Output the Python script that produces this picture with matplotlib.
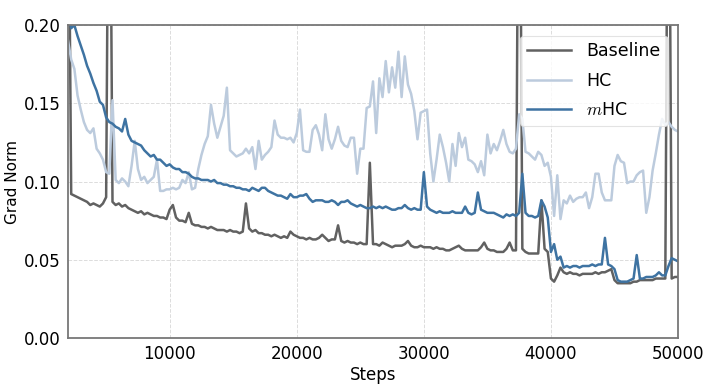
import numpy as np
import matplotlib
matplotlib.use('Agg')
import matplotlib.pyplot as plt

plt.rcParams['font.family'] = ['DejaVu Sans']
plt.rcParams['mathtext.fontset'] = 'cm'

# training steps, logged every 250
steps = np.arange(2000, 50001, 250)

baseline = [
    0.350, 0.092, 0.091, 0.090,   # 2000
    0.089, 0.088, 0.087, 0.085,   # 3000
    0.086, 0.085, 0.084, 0.086,   # 4000
    0.090, 0.400, 0.087, 0.085,   # 5000
    0.086, 0.084, 0.085, 0.083,   # 6000
    0.082, 0.081, 0.080, 0.081,   # 7000
    0.079, 0.080, 0.079, 0.078,   # 8000
    0.078, 0.077, 0.077, 0.076,   # 9000
    0.082, 0.085, 0.077, 0.075,   # 10000
    0.075, 0.074, 0.080, 0.073,   # 11000
    0.072, 0.072, 0.071, 0.071,   # 12000
    0.070, 0.071, 0.070, 0.069,   # 13000
    0.069, 0.069, 0.068, 0.069,   # 14000
    0.068, 0.068, 0.067, 0.068,   # 15000
    0.086, 0.070, 0.068, 0.069,   # 16000
    0.067, 0.067, 0.066, 0.066,   # 17000
    0.065, 0.066, 0.065, 0.064,   # 18000
    0.065, 0.064, 0.068, 0.066,   # 19000
    0.065, 0.064, 0.064, 0.063,   # 20000
    0.064, 0.063, 0.063, 0.064,   # 21000
    0.066, 0.064, 0.062, 0.063,   # 22000
    0.063, 0.072, 0.062, 0.061,   # 23000
    0.062, 0.061, 0.061, 0.060,   # 24000
    0.061, 0.060, 0.060, 0.112,   # 25000
    0.060, 0.060, 0.059, 0.061,   # 26000
    0.060, 0.059, 0.058, 0.059,   # 27000
    0.059, 0.059, 0.060, 0.062,   # 28000
    0.059, 0.058, 0.058, 0.059,   # 29000
    0.058, 0.058, 0.058, 0.057,   # 30000
    0.058, 0.057, 0.057, 0.056,   # 31000
    0.056, 0.057, 0.058, 0.059,   # 32000
    0.057, 0.056, 0.056, 0.056,   # 33000
    0.056, 0.056, 0.058, 0.061,   # 34000
    0.057, 0.056, 0.056, 0.055,   # 35000
    0.055, 0.055, 0.057, 0.061,   # 36000
    0.056, 0.056, 0.400, 0.057,   # 37000
    0.055, 0.054, 0.054, 0.054,   # 38000
    0.054, 0.088, 0.057, 0.055,   # 39000
    0.038, 0.036, 0.040, 0.045,   # 40000
    0.042, 0.041, 0.042, 0.041,   # 41000
    0.041, 0.040, 0.041, 0.041,   # 42000
    0.041, 0.041, 0.042, 0.041,   # 43000
    0.042, 0.042, 0.043, 0.044,   # 44000
    0.037, 0.035, 0.035, 0.035,   # 45000
    0.035, 0.035, 0.036, 0.036,   # 46000
    0.037, 0.037, 0.037, 0.037,   # 47000
    0.037, 0.038, 0.038, 0.038,   # 48000
    0.038, 0.400, 0.038, 0.039,   # 49000
    0.039]

hc = [
    0.190, 0.178, 0.172, 0.155,   # 2000
    0.146, 0.138, 0.133, 0.131,   # 3000
    0.134, 0.121, 0.118, 0.114,   # 4000
    0.106, 0.105, 0.152, 0.101,   # 5000
    0.099, 0.102, 0.100, 0.097,   # 6000
    0.110, 0.126, 0.108, 0.101,   # 7000
    0.103, 0.099, 0.101, 0.103,   # 8000
    0.114, 0.094, 0.094, 0.095,   # 9000
    0.095, 0.096, 0.095, 0.096,   # 10000
    0.101, 0.099, 0.106, 0.095,   # 11000
    0.096, 0.108, 0.117, 0.124,   # 12000
    0.129, 0.149, 0.137, 0.128,   # 13000
    0.135, 0.142, 0.160, 0.120,   # 14000
    0.118, 0.116, 0.117, 0.118,   # 15000
    0.121, 0.118, 0.122, 0.108,   # 16000
    0.126, 0.114, 0.117, 0.119,   # 17000
    0.122, 0.139, 0.130, 0.128,   # 18000
    0.128, 0.127, 0.128, 0.125,   # 19000
    0.131, 0.146, 0.120, 0.119,   # 20000
    0.119, 0.133, 0.136, 0.130,   # 21000
    0.120, 0.143, 0.127, 0.121,   # 22000
    0.127, 0.135, 0.126, 0.123,   # 23000
    0.122, 0.128, 0.128, 0.105,   # 24000
    0.121, 0.121, 0.147, 0.148,   # 25000
    0.164, 0.131, 0.166, 0.154,   # 26000
    0.177, 0.157, 0.173, 0.160,   # 27000
    0.183, 0.154, 0.180, 0.162,   # 28000
    0.156, 0.145, 0.127, 0.144,   # 29000
    0.145, 0.146, 0.118, 0.100,   # 30000
    0.114, 0.130, 0.122, 0.112,   # 31000
    0.100, 0.124, 0.110, 0.131,   # 32000
    0.122, 0.128, 0.114, 0.113,   # 33000
    0.111, 0.106, 0.113, 0.104,   # 34000
    0.130, 0.118, 0.124, 0.120,   # 35000
    0.126, 0.133, 0.124, 0.119,   # 36000
    0.118, 0.121, 0.143, 0.140,   # 37000
    0.119, 0.118, 0.116, 0.114,   # 38000
    0.119, 0.117, 0.110, 0.112,   # 39000
    0.103, 0.078, 0.104, 0.076,   # 40000
    0.088, 0.086, 0.091, 0.087,   # 41000
    0.089, 0.090, 0.090, 0.093,   # 42000
    0.083, 0.090, 0.105, 0.105,   # 43000
    0.093, 0.088, 0.088, 0.088,   # 44000
    0.110, 0.117, 0.113, 0.112,   # 45000
    0.099, 0.100, 0.100, 0.104,   # 46000
    0.106, 0.107, 0.080, 0.090,   # 47000
    0.107, 0.118, 0.130, 0.140,   # 48000
    0.136, 0.138, 0.135, 0.133,   # 49000
    0.132]

mhc = [
    0.210, 0.198, 0.200, 0.193,   # 2000
    0.187, 0.181, 0.174, 0.169,   # 3000
    0.163, 0.158, 0.151, 0.149,   # 4000
    0.141, 0.138, 0.137, 0.135,   # 5000
    0.134, 0.132, 0.140, 0.130,   # 6000
    0.126, 0.125, 0.124, 0.123,   # 7000
    0.120, 0.118, 0.116, 0.117,   # 8000
    0.114, 0.114, 0.112, 0.110,   # 9000
    0.111, 0.109, 0.108, 0.108,   # 10000
    0.106, 0.106, 0.105, 0.103,   # 11000
    0.102, 0.102, 0.101, 0.101,   # 12000
    0.101, 0.100, 0.101, 0.099,   # 13000
    0.099, 0.098, 0.098, 0.097,   # 14000
    0.097, 0.096, 0.096, 0.095,   # 15000
    0.095, 0.094, 0.096, 0.095,   # 16000
    0.094, 0.096, 0.096, 0.094,   # 17000
    0.093, 0.092, 0.091, 0.091,   # 18000
    0.090, 0.089, 0.092, 0.090,   # 19000
    0.090, 0.091, 0.091, 0.092,   # 20000
    0.089, 0.087, 0.088, 0.088,   # 21000
    0.088, 0.087, 0.087, 0.088,   # 22000
    0.087, 0.085, 0.087, 0.087,   # 23000
    0.088, 0.086, 0.085, 0.084,   # 24000
    0.085, 0.084, 0.083, 0.083,   # 25000
    0.084, 0.083, 0.084, 0.083,   # 26000
    0.084, 0.083, 0.082, 0.082,   # 27000
    0.083, 0.083, 0.085, 0.083,   # 28000
    0.082, 0.083, 0.082, 0.082,   # 29000
    0.106, 0.084, 0.082, 0.081,   # 30000
    0.080, 0.081, 0.080, 0.080,   # 31000
    0.080, 0.081, 0.080, 0.080,   # 32000
    0.080, 0.084, 0.080, 0.079,   # 33000
    0.080, 0.093, 0.082, 0.081,   # 34000
    0.080, 0.080, 0.080, 0.079,   # 35000
    0.078, 0.077, 0.079, 0.078,   # 36000
    0.079, 0.078, 0.080, 0.105,   # 37000
    0.080, 0.078, 0.078, 0.077,   # 38000
    0.078, 0.088, 0.084, 0.077,   # 39000
    0.055, 0.060, 0.050, 0.052,   # 40000
    0.045, 0.046, 0.045, 0.046,   # 41000
    0.046, 0.045, 0.046, 0.046,   # 42000
    0.046, 0.047, 0.046, 0.047,   # 43000
    0.047, 0.064, 0.047, 0.046,   # 44000
    0.044, 0.037, 0.036, 0.036,   # 45000
    0.036, 0.037, 0.038, 0.053,   # 46000
    0.038, 0.038, 0.039, 0.039,   # 47000
    0.039, 0.040, 0.042, 0.040,   # 48000
    0.040, 0.046, 0.051, 0.050,   # 49000
    0.049]

x_ticks = [10000, 20000, 30000, 40000, 50000]
y_ticks = [0.00, 0.05, 0.10, 0.15, 0.20]

fig = plt.figure(figsize=(7.19, 3.86), dpi=100)
ax = fig.add_axes([0.0946, 0.1244, 0.8484, 0.8106])

ax.plot(steps, baseline, color='#616161', lw=1.8, label='Baseline')
ax.plot(steps, hc, color='#bccbdd', lw=1.8, label='HC')
ax.plot(steps, mhc, color='#3e73a2', lw=1.8, label='$m$HC')

ax.set_xlim(2000, 50000)
ax.set_ylim(0, 0.2)
ax.set_xticks(x_ticks)
ax.set_yticks(y_ticks)
ax.set_yticklabels(['%.2f' % v for v in y_ticks])
ax.tick_params(length=0, labelsize=12, pad=5)
ax.grid(True, color='#dcdcdc', lw=0.7, ls='--')
ax.set_axisbelow(True)
for sp in ax.spines.values():
    sp.set_color('#777777')
    sp.set_linewidth(1.3)

ax.set_xlabel('Steps', fontsize=12, labelpad=2)
ax.set_ylabel('Grad Norm', fontsize=11, labelpad=3)

leg = ax.legend(loc='upper right', fontsize=12.5, handlelength=2.5,
                handletextpad=0.9, labelspacing=0.65, borderaxespad=0.6,
                framealpha=0.8, edgecolor='#dddddd', fancybox=True)
leg.get_frame().set_linewidth(0.8)

plt.savefig('out.png', dpi=100)
